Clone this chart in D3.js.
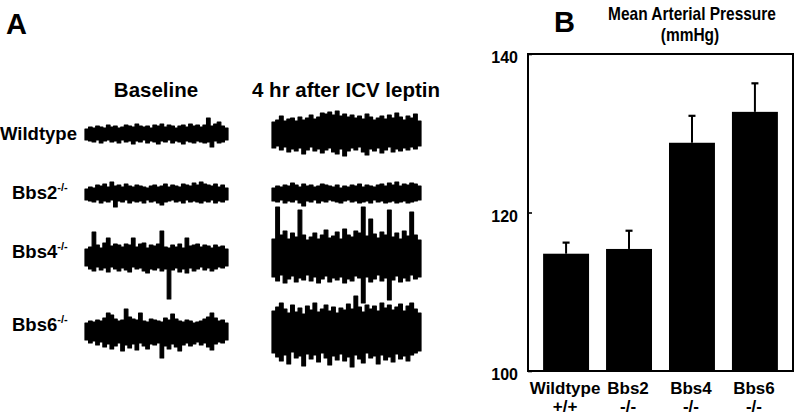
<!DOCTYPE html>
<html><head><meta charset="utf-8">
<script src="https://cdn.jsdelivr.net/npm/d3@7"></script>
<style>
html,body{margin:0;padding:0;background:#fff;}
svg text{font-family:"Liberation Sans",Arial,Helvetica,sans-serif;font-weight:bold;fill:#000;}
</style></head>
<body><svg id="chart" width="795" height="420"></svg>
<script>
// ---------- DATA ----------
const groups = ["Wildtype", "Bbs2", "Bbs4", "Bbs6"];
const groupGenotype = ["+/+", "-/-", "-/-", "-/-"];
const mapMean = [114.8, 115.4, 128.8, 132.7];
const mapSEM = [1.4, 2.3, 3.4, 3.6];
const yTicks = [100, 120, 140];
const rowLabels = ["Wildtype", "Bbs2", "Bbs4", "Bbs6"];
const rowSuper = ["", "-/-", "-/-", "-/-"];
const conditions = ["Baseline", "4 hr after ICV leptin"];

// nerve activity envelopes (upper / lower deflection, arbitrary units)
const wtBaseUp   = [5,7,6,8,7,6,9,7,8,6,7,9,8,7,10,8,7,8,6,9,8,10,7,9,8,6,8,9,7,10,8,9,7,9,16,8,10,12,8,6];
const wtBaseDown = [6,7,8,6,9,7,6,8,7,9,6,8,7,10,7,8,6,9,7,8,10,7,8,6,9,7,8,10,7,8,9,7,8,9,8,13,7,9,8,6];
const wtLepUp    = [12,14,18,13,15,16,13,17,14,16,19,15,17,21,20,22,19,23,18,20,17,19,16,18,15,20,17,14,16,18,15,19,16,21,17,14,18,16,20,13];
const wtLepDown  = [14,12,16,13,18,15,17,14,20,16,13,17,15,19,16,14,18,20,15,22,17,14,16,13,18,21,15,17,14,19,16,13,18,15,17,14,16,13,15,12];
const b2BaseUp   = [5,7,6,9,8,10,7,12,8,9,7,10,8,7,9,8,7,6,8,9,7,8,10,7,9,8,7,10,9,8,11,9,12,10,9,8,10,7,9,6];
const b2BaseDown = [6,7,8,6,9,7,8,6,13,7,8,6,9,7,8,7,9,6,8,7,9,11,8,7,6,8,7,9,6,8,7,8,9,7,8,6,9,7,8,6];
const b2LepUp    = [6,8,7,9,8,11,9,7,10,8,9,7,8,10,9,8,7,9,6,8,7,9,8,10,7,9,8,7,9,10,8,11,9,12,8,10,9,11,10,8];
const b2LepDown  = [7,8,6,9,7,8,6,9,12,7,8,6,9,7,8,6,7,8,9,7,6,8,7,9,8,7,9,6,8,7,9,8,7,9,8,7,9,8,7,6];
const b4BaseUp   = [8,10,25,12,9,14,19,11,13,12,10,13,12,19,10,13,14,9,12,11,13,26,10,9,12,10,13,9,19,11,12,13,10,12,11,9,12,10,11,8];
const b4BaseDown = [9,12,14,10,13,11,15,10,12,14,11,13,15,10,12,11,14,16,12,13,11,14,12,42,13,11,15,12,16,11,14,12,10,13,11,14,12,10,11,9];
const b4LepUp    = [18,50,22,26,18,24,20,47,22,17,20,24,18,22,27,19,21,25,18,28,22,20,26,24,50,21,38,23,19,25,22,47,20,24,18,26,21,45,22,17];
const b4LepDown  = [20,24,18,26,22,19,25,21,23,18,24,20,26,22,19,25,21,23,20,26,22,24,19,21,46,20,25,22,18,24,21,43,23,19,25,21,24,18,22,20];
const b6BaseUp   = [8,10,9,11,10,13,18,16,12,10,11,22,14,12,11,18,10,9,12,11,10,9,13,11,17,12,10,9,11,10,8,9,10,12,14,18,13,10,11,8];
const b6BaseDown = [9,12,10,14,11,16,13,18,15,12,20,14,17,13,19,12,15,18,13,14,12,27,15,18,13,16,20,14,12,15,13,11,14,12,16,19,13,11,12,9];
const b6LepUp    = [20,24,28,22,18,26,19,23,17,25,21,28,19,22,26,20,24,18,23,21,27,22,35,24,19,26,22,25,20,28,23,26,21,24,27,20,25,28,22,18];
const b6LepDown  = [22,26,30,24,33,21,27,25,35,23,28,24,31,22,27,34,25,29,23,30,26,36,24,28,32,22,27,25,33,24,29,26,31,23,28,25,30,24,22,20];

// ---------- LAYOUT ----------
const svg = d3.select("#chart");
const FONT = '"Liberation Sans",Arial,Helvetica,sans-serif';

// Panel A
svg.append("text").attr("x", 6).attr("y", 34).attr("font-size", 29).text("A");
const traceCols = [{x0: 85, x1: 228, cx: 156}, {x0: 272, x1: 421, cx: 346}];
const rowCenters = [134, 194, 257, 331];
const rowBaselines = [140, 199, 258, 331];
conditions.forEach((c, i) => {
  svg.append("text").attr("x", traceCols[i].cx).attr("y", 97)
    .attr("text-anchor", "middle").attr("font-size", 20.5).text(c);
});
rowLabels.forEach((r, i) => {
  const t = svg.append("text").attr("x", i === 0 ? 0 : 12).attr("y", rowBaselines[i]).attr("font-size", 18.5);
  t.append("tspan").text(r);
  if (rowSuper[i]) t.append("tspan").attr("font-size", 11).attr("dy", -8).text(rowSuper[i]);
});
const traces = [
  [[wtBaseUp, wtBaseDown], [wtLepUp, wtLepDown]],
  [[b2BaseUp, b2BaseDown], [b2LepUp, b2LepDown]],
  [[b4BaseUp, b4BaseDown], [b4LepUp, b4LepDown]],
  [[b6BaseUp, b6BaseDown], [b6LepUp, b6LepDown]]
];
traces.forEach((row, ri) => {
  row.forEach(([up, down], ci) => {
    const n = up.length;
    const xs = d3.scaleLinear().domain([0, n]).range([traceCols[ci].x0, traceCols[ci].x1]);
    const ys = d3.scaleLinear().domain([-60, 60]).range([rowCenters[ri] + 60, rowCenters[ri] - 60]);
    const pts = up.map((u, k) => ({k, u, d: down[k]}));
    pts.push({k: n, u: up[n - 1], d: down[n - 1]});
    const area = d3.area().curve(d3.curveStepAfter)
      .x(p => xs(p.k)).y0(p => ys(-p.d)).y1(p => ys(p.u));
    svg.append("path").attr("d", area(pts)).attr("fill", "#000")
      .attr("stroke", "#000").attr("stroke-width", 1.2).attr("stroke-linejoin", "round");
  });
});

// Panel B
svg.append("text").attr("x", 554).attr("y", 32).attr("font-size", 29).text("B");
svg.append("text").attr("transform", "translate(692,20) scale(0.86,1)").attr("text-anchor", "middle")
  .attr("font-size", 18).text("Mean Arterial Pressure");
svg.append("text").attr("transform", "translate(690,41) scale(0.86,1)").attr("text-anchor", "middle")
  .attr("font-size", 18).text("(mmHg)");

const plot = {left: 528, right: 793, top: 54, bottom: 371};
const x = d3.scaleBand().domain(groups).range([plot.left, plot.right]).paddingInner(0.27).paddingOuter(0.24);
const y = d3.scaleLinear().domain([100, 140]).range([plot.bottom, plot.top]);

const gB = svg.append("g");
gB.selectAll("rect.bar").data(groups).join("rect").attr("class", "bar")
  .attr("x", d => x(d)).attr("width", x.bandwidth())
  .attr("y", (d, i) => y(mapMean[i])).attr("height", (d, i) => y(100) - y(mapMean[i]))
  .attr("fill", "#000");
gB.selectAll("line.err").data(groups).join("line").attr("class", "err")
  .attr("x1", d => x(d) + x.bandwidth() / 2).attr("x2", d => x(d) + x.bandwidth() / 2)
  .attr("y1", (d, i) => y(mapMean[i])).attr("y2", (d, i) => y(mapMean[i] + mapSEM[i]))
  .attr("stroke", "#000").attr("stroke-width", 2);
gB.selectAll("line.cap").data(groups).join("line").attr("class", "cap")
  .attr("x1", d => x(d) + x.bandwidth() / 2 - 3.5).attr("x2", d => x(d) + x.bandwidth() / 2 + 3.5)
  .attr("y1", (d, i) => y(mapMean[i] + mapSEM[i])).attr("y2", (d, i) => y(mapMean[i] + mapSEM[i]))
  .attr("stroke", "#000").attr("stroke-width", 2.2);

const axis = d3.axisLeft(y).tickValues(yTicks).tickSizeInner(-4).tickSizeOuter(0).tickPadding(10);
const gA = svg.append("g").attr("transform", `translate(${plot.left},0)`).call(axis);
gA.select(".domain").remove();
gA.selectAll(".tick line").attr("stroke", "#000").attr("stroke-width", 1.6);
gA.selectAll(".tick text").attr("font-size", 16).attr("font-family", FONT).attr("font-weight", "bold")
  .attr("fill", "#000").attr("dy", "0.55em");

svg.append("rect").attr("x", plot.left).attr("y", plot.top)
  .attr("width", plot.right - plot.left).attr("height", plot.bottom - plot.top)
  .attr("fill", "none").attr("stroke", "#000").attr("stroke-width", 2);

groups.forEach((g, i) => {
  const cx = x(g) + x.bandwidth() / 2;
  svg.append("text").attr("x", cx - 1).attr("y", 394).attr("text-anchor", "middle").attr("font-size", 17).text(g);
  svg.append("text").attr("x", cx - 1).attr("y", 412).attr("text-anchor", "middle").attr("font-size", 17).text(groupGenotype[i]);
});
</script></body></html>
